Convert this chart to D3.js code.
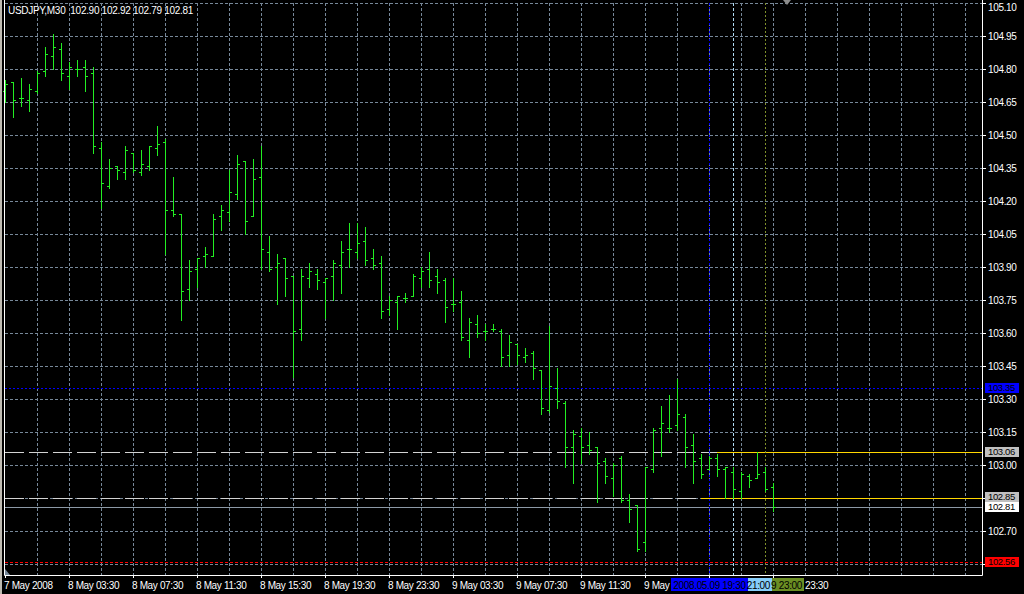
<!DOCTYPE html>
<html><head><meta charset="utf-8">
<script src="https://cdn.jsdelivr.net/npm/d3@7"></script>
<style>html,body{margin:0;padding:0;background:#000;overflow:hidden} text{white-space:pre}</style>
</head><body><svg id="c" width="1024" height="594"></svg>
<script>
const symbol = "USDJPY,M30";
const lastQuote = [102.90, 102.92, 102.79, 102.81];

const openP = [104.70,104.74,104.67,104.66,104.70,104.79,104.86,104.89,104.77,104.80,
104.81,104.78,104.44,104.27,104.36,104.33,104.42,104.33,104.36,104.44,
104.47,104.16,104.14,103.80,103.89,103.95,103.95,104.13,104.15,104.23,
104.38,104.13,104.31,103.97,103.90,103.94,103.86,103.62,103.85,103.87,
103.83,103.86,103.91,103.98,103.97,104.02,103.94,103.92,103.71,103.74,
103.76,103.77,103.85,103.89,103.86,103.84,103.73,103.74,103.57,103.64,
103.61,103.62,103.61,103.50,103.55,103.49,103.51,103.43,103.25,103.35,
103.28,103.08,103.13,103.09,103.08,103.02,102.94,103.03,102.84,102.82,
102.65,102.98,103.17,103.17,103.18,103.22,103.09,103.03,102.98,103.03,
102.98,102.97,102.88,102.95,102.94,102.97,102.90];
const highP = [104.75,104.74,104.76,104.73,104.79,104.90,104.96,104.92,104.83,104.84,
104.84,104.81,104.47,104.39,104.36,104.45,104.42,104.43,104.45,104.54,
104.48,104.31,104.14,103.93,103.94,103.99,104.14,104.18,104.34,104.41,
104.38,104.39,104.45,104.04,103.96,103.94,103.86,103.89,103.92,103.89,
103.85,103.93,104.02,104.10,104.10,104.08,103.98,103.95,103.77,103.77,
103.78,103.87,103.90,103.97,103.89,103.85,103.85,103.79,103.67,103.68,
103.64,103.64,103.62,103.59,103.55,103.53,103.52,103.43,103.63,103.44,
103.29,103.16,103.17,103.15,103.08,103.03,103.01,103.04,102.87,102.82,
102.99,103.17,103.27,103.32,103.39,103.23,103.14,103.05,103.04,103.05,
102.99,102.99,102.97,102.96,103.06,102.99,102.92];
const lowP = [104.65,104.58,104.63,104.61,104.69,104.77,104.80,104.75,104.71,104.77,
104.70,104.42,104.17,104.26,104.30,104.30,104.33,104.32,104.34,104.41,
103.96,104.13,103.66,103.75,103.81,103.90,103.95,104.07,104.11,104.21,
104.05,104.13,103.89,103.88,103.73,103.77,103.40,103.57,103.81,103.80,
103.67,103.75,103.78,103.90,103.94,103.91,103.89,103.67,103.68,103.62,
103.74,103.77,103.81,103.81,103.78,103.65,103.70,103.57,103.49,103.58,
103.57,103.61,103.45,103.45,103.46,103.47,103.39,103.23,103.24,103.26,
102.99,102.92,103.01,103.05,102.83,102.92,102.86,102.83,102.74,102.61,
102.61,102.97,103.04,103.15,103.16,102.99,102.92,102.94,102.98,102.95,
102.85,102.85,102.85,102.90,102.94,102.88,102.79];
const closeP = [104.73,104.66,104.67,104.71,104.78,104.87,104.90,104.78,104.81,104.80,
104.77,104.45,104.28,104.35,104.34,104.43,104.34,104.37,104.45,104.46,
104.16,104.14,103.79,103.88,103.94,103.96,104.12,104.16,104.24,104.37,
104.11,104.30,103.98,103.89,103.92,103.85,103.61,103.86,103.88,103.84,
103.85,103.92,103.97,103.98,104.01,103.93,103.91,103.70,103.75,103.77,
103.76,103.86,103.88,103.84,103.83,103.72,103.73,103.58,103.65,103.60,
103.61,103.62,103.49,103.56,103.50,103.50,103.44,103.26,103.36,103.29,
103.08,103.14,103.08,103.07,103.01,102.95,103.00,102.84,102.80,102.62,
102.99,103.16,103.19,103.17,103.23,103.08,103.02,102.96,103.03,102.98,
102.99,102.89,102.96,102.93,102.96,102.89,102.81];

const priceTicks = [105.10,104.95,104.80,104.65,104.50,104.35,104.20,104.05,103.90,103.75,
103.60,103.45,103.30,103.15,103.00,102.85,102.70,102.55];
const timeTickBars = [0,8,16,24,32,40,48,56,64,72,80,88,96];
const timeTickLabels = ["7 May 2008","8 May 03:30","8 May 07:30","8 May 11:30","8 May 15:30",
"8 May 19:30","8 May 23:30","9 May 03:30","9 May 07:30","9 May 11:30","9 May 15:30",
"9 May 19:30","9 May 23:30"];

// horizontal levels
const bidPrice = 102.81;
const alertPrice = 102.56;
const bluePrice = 103.35;
const rangeLevels = [103.06, 102.85];
const rangeStartBars = [89, 87];
// vertical events
const eventBars = [88, 91, 95];
const eventLabels = ["2008.05.09 19:30","2008.05.09 21:00","2008.05.09 23:00"];

(function draw() {
const W = 1024, H = 594;
const pL = 4, pR = 982, pT = 0, pB = 575;
const FONT = "'Liberation Sans', Arial, sans-serif";
const LS = "-0.35px";

const svg = d3.select("#c");
svg.append("rect").attr("width", W).attr("height", H).attr("fill", "#000");

const x = d3.scaleLinear().domain([0, 1]).range([5, 13]);
const y = d3.scaleLinear().domain([102.55, 105.10]).range([564, 3]);
const px = v => Math.round(v) + 0.5;

// window edge
svg.append("rect").attr("x", 0).attr("y", 0).attr("width", 2).attr("height", H).attr("fill", "#bdb9b0");

const grid = svg.append("g").attr("stroke", "#778899").attr("stroke-width", 1).attr("stroke-dasharray", "3,2");
const vg = d3.range(4, 122, 4);
grid.selectAll("line.v").data(vg).join("line").attr("class", "v")
  .attr("x1", d => px(x(d))).attr("x2", d => px(x(d)))
  .attr("y1", pT + 3).attr("y2", pB);
grid.selectAll("line.h").data(priceTicks).join("line").attr("class", "h")
  .attr("x1", pL + 1).attr("x2", pR)
  .attr("y1", d => px(y(d))).attr("y2", d => px(y(d)));

// red alert line
svg.append("line").attr("x1", pL + 1).attr("x2", pR)
  .attr("y1", px(y(alertPrice))).attr("y2", px(y(alertPrice)))
  .attr("stroke", "#ff0000").attr("stroke-dasharray", "3,2");
// blue level
svg.append("line").attr("x1", pL + 1).attr("x2", pR)
  .attr("y1", px(y(bluePrice))).attr("y2", px(y(bluePrice)))
  .attr("stroke", "#0000ff").attr("stroke-dasharray", "2,2");
// range levels gray dashed + yellow
rangeLevels.forEach((p, k) => {
  const yy = px(y(p));
  const xs = Math.round(x(rangeStartBars[k]));
  svg.append("line").attr("x1", pL + 1).attr("x2", xs).attr("y1", yy).attr("y2", yy)
    .attr("stroke", "#d3d3d3").attr("stroke-dasharray", "19,5");
  svg.append("line").attr("x1", xs).attr("x2", pR).attr("y1", yy).attr("y2", yy)
    .attr("stroke", "#ffd700");
});
// bid line
svg.append("line").attr("x1", pL + 1).attr("x2", pR)
  .attr("y1", px(y(bidPrice))).attr("y2", px(y(bidPrice)))
  .attr("stroke", "#8c99a6");

// vertical event lines
const evColors = ["#0000ff", "#b0dcf4", "#7f8f2a"];
const evDash = ["2,2", "3,2", "2,2"];
eventBars.forEach((b, k) => {
  svg.append("line").attr("x1", px(x(b))).attr("x2", px(x(b)))
    .attr("y1", pT + 3).attr("y2", pB)
    .attr("stroke", evColors[k]).attr("stroke-dasharray", evDash[k]);
});

// OHLC bars
const bars = d3.range(openP.length).map(i => ({i, o: openP[i], h: highP[i], l: lowP[i], c: closeP[i]}));
const bg = svg.append("g").attr("stroke", "#22ee22").attr("stroke-width", 1).attr("shape-rendering", "crispEdges");
bg.selectAll("line.hl").data(bars).join("line").attr("class", "hl")
  .attr("x1", d => px(x(d.i))).attr("x2", d => px(x(d.i)))
  .attr("y1", d => Math.round(y(d.h))).attr("y2", d => Math.round(y(d.l)) + 1);
bg.selectAll("line.o").data(bars).join("line").attr("class", "o")
  .attr("x1", d => Math.round(x(d.i)) - 2).attr("x2", d => Math.round(x(d.i)))
  .attr("y1", d => px(y(d.o))).attr("y2", d => px(y(d.o)));
bg.selectAll("line.c").data(bars).join("line").attr("class", "c")
  .attr("x1", d => Math.round(x(d.i)) + 1).attr("x2", d => Math.round(x(d.i)) + 3)
  .attr("y1", d => px(y(d.c))).attr("y2", d => px(y(d.c)));

// frame
svg.append("path").attr("d", `M${pL + 0.5},${pT}V${pB + 0.5}H${pR + 0.5}V${pT}`)
  .attr("fill", "none").attr("stroke", "#fff");

// price markers (boxes on the axis)
const markers = [
  {p: bluePrice, fill: "#0000ff", dy: 0},
  {p: rangeLevels[0], fill: "#c0c0c0", dy: 0},
  {p: rangeLevels[1], fill: "#c0c0c0", dy: -1},
  {p: bidPrice, fill: "#ffffff", dy: 0},
  {p: alertPrice, fill: "#ff0000", dy: 0}
];
const markerY = markers.map(m => Math.round(y(m.p)) + m.dy);
const covered = d => markerY.some(my => Math.abs(my - y(d)) < 4);

// price axis ticks and labels
const pa = svg.append("g");
pa.selectAll("line").data(priceTicks).join("line")
  .attr("x1", pR + 1).attr("x2", pR + 4)
  .attr("y1", d => px(y(d))).attr("y2", d => px(y(d))).attr("stroke", "#fff");
pa.selectAll("text").data(priceTicks.filter(d => !covered(d))).join("text")
  .attr("x", 988).attr("y", d => Math.max(Math.round(y(d)) + 0.5, 7)).attr("dy", "0.35em")
  .attr("fill", "#fff").attr("font-family", FONT).attr("font-size", 10)
  .attr("letter-spacing", LS).text(d => d.toFixed(2));

markers.forEach((m, k) => {
  const cy = markerY[k];
  svg.append("rect").attr("x", 985).attr("y", cy - 5).attr("width", 34).attr("height", 10).attr("fill", m.fill);
  svg.append("text").attr("x", 988).attr("y", cy).attr("dy", "0.35em")
    .attr("fill", "#000").attr("font-family", FONT).attr("font-size", 9.5).attr("letter-spacing", LS)
    .text(m.p.toFixed(2));
});

// event label boxes on time axis (later events drawn first, earliest on top)
const evBg = ["#0000ff", "#87cefa", "#6b8e23"];
const boxW = 77;
const evBoxes = eventBars.map(b => { const cx = Math.round(x(b)) + 0.5; return [cx - boxW / 2, cx + boxW / 2]; });
// visible span of each box (not hidden by earlier event boxes)
const visible = evBoxes.map((bx, k) => {
  let a = bx[0];
  for (let j = 0; j < k; j++) if (evBoxes[j][1] > a) a = Math.max(a, evBoxes[j][1]);
  return [a, bx[1]];
});

// time axis
const ta = svg.append("g");
ta.selectAll("line").data(timeTickBars).join("line")
  .attr("x1", d => px(x(d))).attr("x2", d => px(x(d)))
  .attr("y1", pB).attr("y2", pB + 3).attr("stroke", "#fff");
const evMin = d3.min(evBoxes, b => b[0]), evMax = d3.max(evBoxes, b => b[1]);
timeTickBars.forEach((b, k) => {
  const tx = Math.round(x(b)) - 1;
  let label = timeTickLabels[k], lx = tx;
  const estW = label.length * 4.7;
  if (tx >= evMin && tx < evMax) {
    // start hidden under event boxes: only the trailing time part shows after them
    const part = label.split(" ").pop();
    const full = label.length * 4.7;
    if (tx + full <= evMax + 2) return;
    label = part; lx = tx + full - part.length * 4.7;
    if (lx < evMax) lx = evMax + 1;
  } else if (tx < evMin && tx + estW > evMin) {
    label = label.split(" ").slice(0, 2).join(" ");
  }
  ta.append("text").attr("x", lx).attr("y", 585).attr("dy", "0.35em")
    .attr("fill", "#fff").attr("font-family", FONT).attr("font-size", 10)
    .attr("letter-spacing", LS).text(label);
});

for (let k = eventBars.length - 1; k >= 0; k--) {
  const [a, b] = evBoxes[k];
  svg.append("rect").attr("x", a).attr("y", 578).attr("width", b - a).attr("height", 13).attr("fill", evBg[k]);
}
eventBars.forEach((bar, k) => {
  const [va, vb] = visible[k];
  let label = eventLabels[k];
  let tx, anchor;
  if (k === 0) { tx = (evBoxes[k][0] + evBoxes[k][1]) / 2; anchor = "middle"; }
  else {
    // only the tail of the label is visible beside the earlier box
    const tail = label.split(" ").pop();
    label = (vb - va > 28 ? label.slice(-7) : tail);
    tx = vb - 2; anchor = "end";
  }
  svg.append("text").attr("x", tx).attr("y", 585).attr("dy", "0.35em").attr("text-anchor", anchor)
    .attr("fill", "#000").attr("font-family", FONT).attr("font-size", 10).attr("letter-spacing", LS)
    .text(label);
});

// small chart-shift markers
svg.append("path").attr("d", "M783,0L791,0L787,5Z").attr("fill", "#8c8c8c");
svg.append("path").attr("d", "M5,569L5,575L10,575Z").attr("fill", "#778899");

// title
svg.append("text").attr("x", 8).attr("y", 10).attr("dy", "0.35em")
  .attr("fill", "#fff").attr("font-family", FONT).attr("font-size", 10).attr("letter-spacing", "-0.3px")
  .text(symbol + "  " + lastQuote.map(v => v.toFixed(2)).join(" "));
})();
</script></body></html>
